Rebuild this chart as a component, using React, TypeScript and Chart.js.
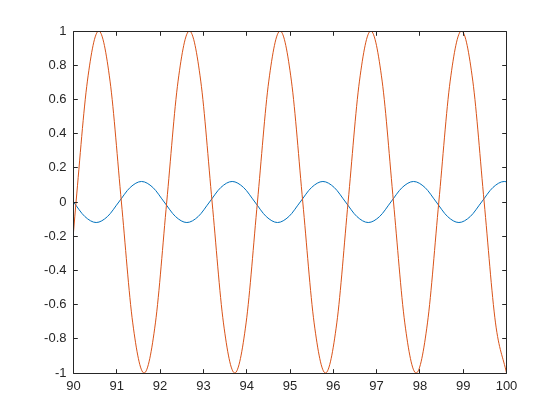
import React, { useEffect, useRef } from "react";
import { Chart, registerables } from "chart.js";

Chart.register(...registerables);

// Blue series (small amplitude)
const blueX = [
  90, 90.262, 90.524, 90.785, 91.047, 91.309, 91.571, 91.833, 92.094, 92.356,
  92.618, 92.88, 93.142, 93.403, 93.665, 93.927, 94.189, 94.451, 94.712, 94.974,
  95.236, 95.498, 95.76, 96.021, 96.283, 96.545, 96.807, 97.069, 97.33, 97.592,
  97.854, 98.116, 98.378, 98.639, 98.901, 99.163, 99.425, 99.687, 99.948, 100,
];
const blueY = [
  0, -0.085, -0.12, -0.085, 0, 0.085, 0.12, 0.085, 0, -0.085,
  -0.12, -0.085, 0, 0.085, 0.12, 0.085, 0, -0.085, -0.12, -0.085,
  0, 0.085, 0.12, 0.085, 0, -0.085, -0.12, -0.085, 0, 0.085,
  0.12, 0.085, 0, -0.085, -0.12, -0.085, 0, 0.085, 0.12, 0.118,
];

// Orange series (unit amplitude)
const orangeX = [
  90, 90.059, 90.321, 90.583, 90.844, 91.106, 91.368, 91.63, 91.892, 92.153,
  92.415, 92.677, 92.939, 93.201, 93.463, 93.724, 93.986, 94.248, 94.51, 94.772,
  95.033, 95.295, 95.557, 95.819, 96.081, 96.342, 96.604, 96.866, 97.128, 97.39,
  97.651, 97.913, 98.175, 98.437, 98.699, 98.961, 99.222, 99.484, 99.746, 100,
];
const orangeY = [
  -0.176, 0, 0.707, 1, 0.707, 0, -0.707, -1, -0.707, 0,
  0.707, 1, 0.707, 0, -0.707, -1, -0.707, 0, 0.707, 1,
  0.707, 0, -0.707, -1, -0.707, 0, 0.707, 1, 0.707, 0,
  -0.707, -1, -0.707, 0, 0.707, 1, 0.707, 0, -0.707, -1,
];

const xTicks = [90, 91, 92, 93, 94, 95, 96, 97, 98, 99, 100];
const yTicks = [-1, -0.8, -0.6, -0.4, -0.2, 0, 0.2, 0.4, 0.6, 0.8, 1];

const AXIS_COLOR = "#262626";
const FONT = { family: "'Liberation Sans', Arial, Helvetica, sans-serif", size: 13 };

const boxPlugin = {
  id: "matlabBox",
  afterDatasetsDraw(chart: any) {
    const { ctx, chartArea } = chart;
    const l = Math.floor(chartArea.left) + 0.5;
    const r = Math.floor(chartArea.right) + 0.5;
    const t = Math.floor(chartArea.top) + 0.5;
    const b = Math.floor(chartArea.bottom) + 0.5;
    const len = 4.3;
    ctx.save();
    ctx.strokeStyle = AXIS_COLOR;
    ctx.lineWidth = 1;
    ctx.beginPath();
    ctx.rect(l, t, r - l, b - t);
    const xs = chart.scales.x;
    const ys = chart.scales.y;
    xs.ticks.forEach((tk: any) => {
      const px = Math.floor(xs.getPixelForValue(tk.value)) + 0.5;
      ctx.moveTo(px, b);
      ctx.lineTo(px, b - len);
      ctx.moveTo(px, t);
      ctx.lineTo(px, t + len);
    });
    ys.ticks.forEach((tk: any) => {
      const py = Math.floor(ys.getPixelForValue(tk.value)) + 0.5;
      ctx.moveTo(l, py);
      ctx.lineTo(l + len, py);
      ctx.moveTo(r, py);
      ctx.lineTo(r - len, py);
    });
    ctx.stroke();
    ctx.restore();
  },
};

export default function App() {
  const ref = useRef<HTMLCanvasElement>(null);

  useEffect(() => {
    if (!ref.current) return;
    const chart = new Chart(ref.current, {
      type: "line",
      data: {
        datasets: [
          {
            data: orangeX.map((x, i) => ({ x, y: orangeY[i] })),
            borderColor: "#D95319",
            borderWidth: 1,
            pointRadius: 0,
            fill: false,
            cubicInterpolationMode: "monotone",
          },
          {
            data: blueX.map((x, i) => ({ x, y: blueY[i] })),
            borderColor: "#0072BD",
            borderWidth: 1,
            pointRadius: 0,
            fill: false,
            cubicInterpolationMode: "monotone",
          },
        ],
      },
      options: {
        responsive: false,
        animation: false,
        events: [],
        layout: { padding: { left: 0, top: 31, right: 53.5, bottom: 0 } },
        plugins: { legend: { display: false }, tooltip: { enabled: false } },
        scales: {
          x: {
            type: "linear",
            min: 90,
            max: 100,
            afterBuildTicks: (s: any) => {
              s.ticks = xTicks.map((v) => ({ value: v }));
            },
            afterFit: (s: any) => {
              s.height = 47;
            },
            grid: { display: false, drawTicks: false },
            border: { display: false },
            ticks: {
              autoSkip: false,
              maxRotation: 0,
              padding: 6,
              color: AXIS_COLOR,
              font: FONT,
              callback: (v: any) => String(v),
            },
          },
          y: {
            type: "linear",
            min: -1,
            max: 1,
            afterBuildTicks: (s: any) => {
              s.ticks = yTicks.map((v) => ({ value: v }));
            },
            afterFit: (s: any) => {
              s.width = 73.5;
            },
            grid: { display: false, drawTicks: false },
            border: { display: false },
            ticks: {
              autoSkip: false,
              padding: 7,
              color: AXIS_COLOR,
              font: FONT,
              callback: (v: any) => String(Math.round(v * 10) / 10),
            },
          },
        },
      },
      plugins: [boxPlugin],
    });
    return () => chart.destroy();
  }, []);

  return (
    <div style={{ position: "absolute", left: 0, top: 0, width: 560, height: 420, background: "#fff" }}>
      <canvas ref={ref} width={560} height={420} style={{ display: "block" }} />
    </div>
  );
}
